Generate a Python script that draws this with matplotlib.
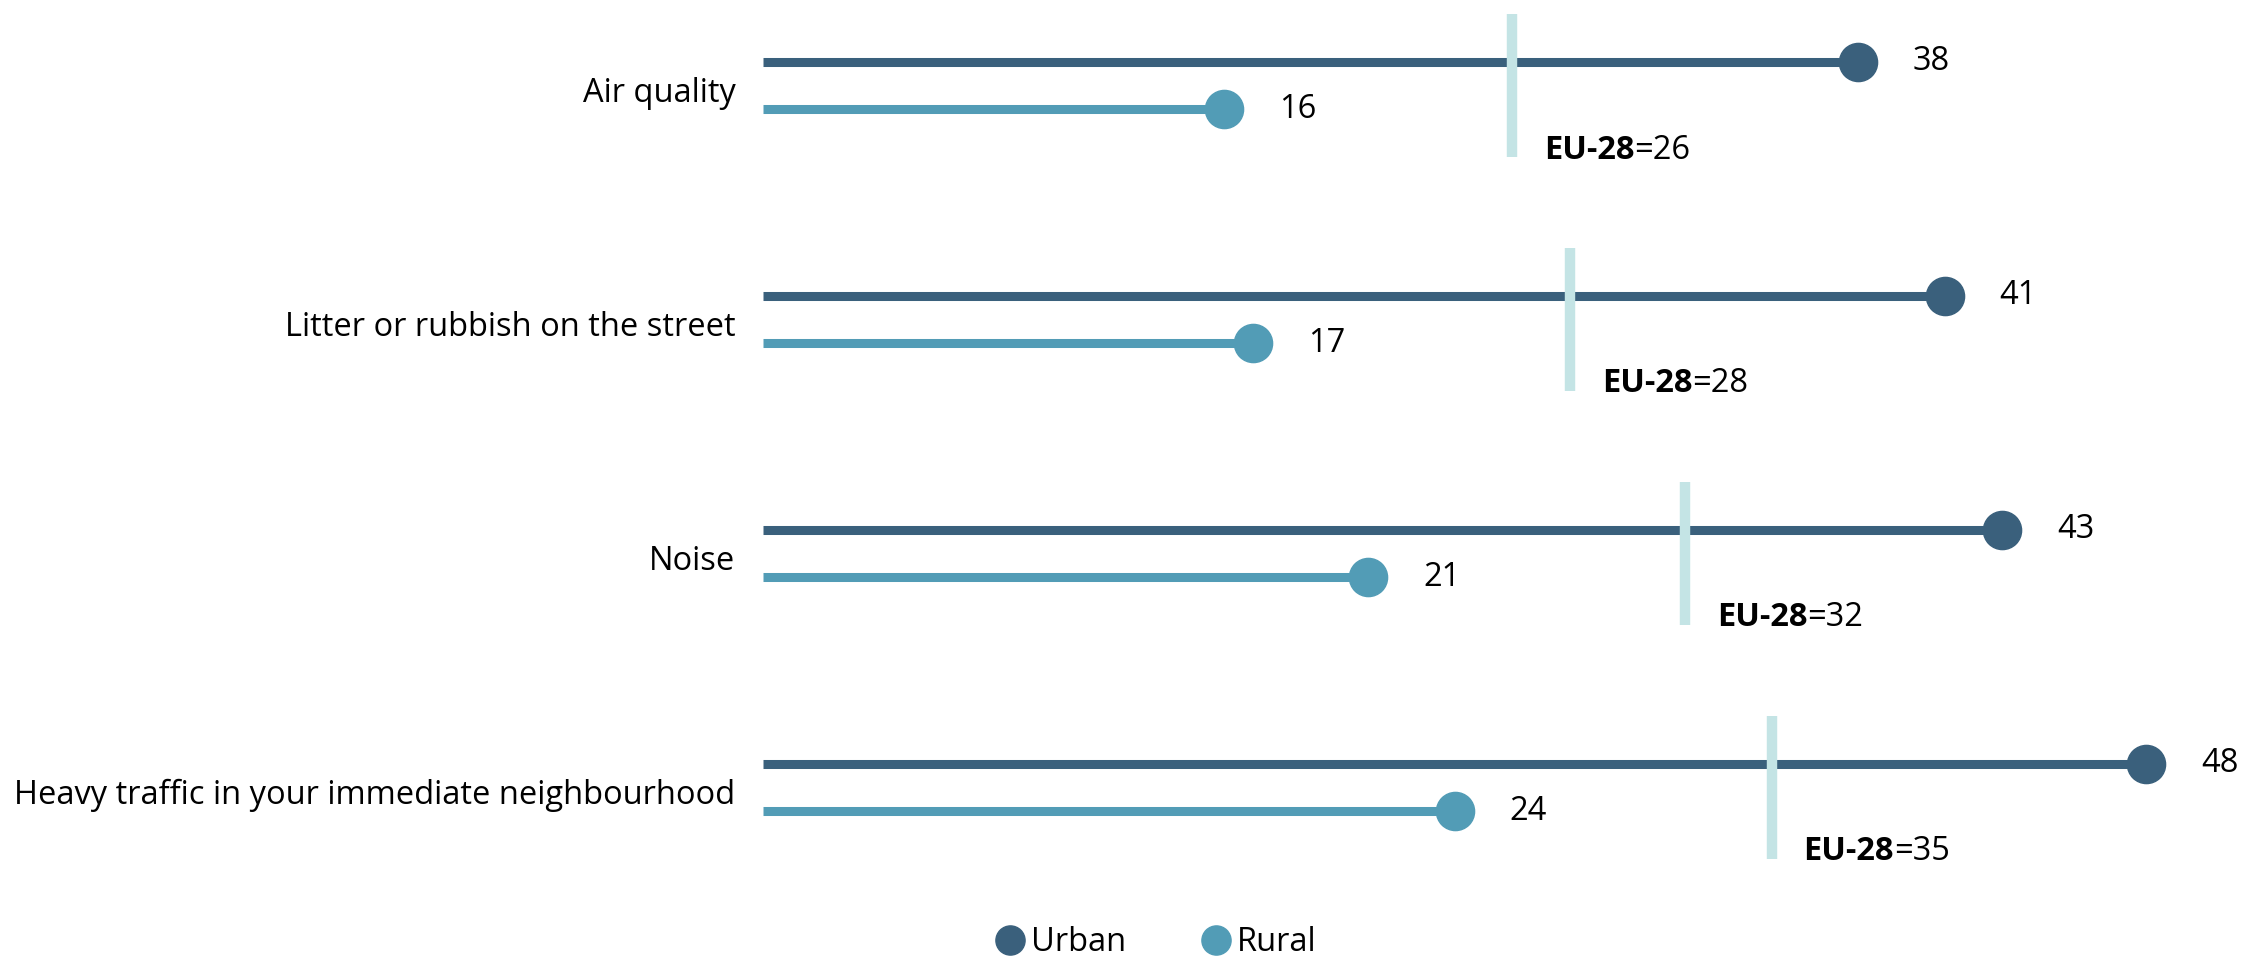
import matplotlib.pyplot as plt
from matplotlib.lines import Line2D

plt.rcParams['font.family'] = ['Open Sans', 'DejaVu Sans']

categories = [
    'Air quality',
    'Litter or rubbish on the street',
    'Noise',
    'Heavy traffic in your immediate neighbourhood',
]
urban = [38, 41, 43, 48]
rural = [16, 17, 21, 24]
eu28 = [26, 28, 32, 35]

URBAN_COL = '#3a607c'
RURAL_COL = '#529cb6'
EU_COL = '#c4e4e5'
FS = 23.5

fig = plt.figure(figsize=(22.44, 9.58), dpi=100)
ax = fig.add_axes([0, 0, 1, 1])

# pixel-like layout: x in data units, y in pixels from the top
x0_px = 763
px_per_unit = 28.82
ax.set_xlim(-x0_px / px_per_unit, (2244 - x0_px) / px_per_unit)
ax.set_ylim(958, 0)
ax.axis('off')

top = 61.5
step = 234
gap = 47.5

for i, cat in enumerate(categories):
    yu = top + i * step
    yr = yu + gap
    ax.plot([0, urban[i]], [yu, yu], color=URBAN_COL, lw=6.5, solid_capstyle='butt', zorder=2)
    ax.plot([0, rural[i]], [yr, yr], color=RURAL_COL, lw=6.5, solid_capstyle='butt', zorder=2)
    ax.plot([urban[i]], [yu], 'o', color=URBAN_COL, ms=27.5, zorder=4)
    ax.plot([rural[i]], [yr], 'o', color=RURAL_COL, ms=27.5, zorder=4)
    ax.plot([eu28[i], eu28[i]], [yu - 48, yr + 48], color=EU_COL, lw=7.5,
            solid_capstyle='butt', zorder=3)

    ax.text(urban[i] + 1.9, yu, str(urban[i]), ha='left', va='center', fontsize=FS)
    ax.text(rural[i] + 1.9, yr, str(rural[i]), ha='left', va='center', fontsize=FS)
    ax.text(-0.95, (yu + yr) / 2 + 8, cat, ha='right', va='center', fontsize=FS)

    t = ax.text(eu28[i] + 1.1, yr + 41, 'EU-28', ha='left', va='center',
                fontsize=FS, fontweight='bold')
    ax.annotate('=' + str(eu28[i]), xycoords=t, xy=(1, 0.5), va='center',
                ha='left', fontsize=FS)

handles = [
    Line2D([], [], marker='o', ls='none', color=URBAN_COL, ms=21, label='Urban'),
    Line2D([], [], marker='o', ls='none', color=RURAL_COL, ms=21, label='Rural'),
]
fig.legend(handles=handles, loc='lower center', bbox_to_anchor=(0.5147, -0.032), ncol=2,
           frameon=False, fontsize=FS, handletextpad=0.15, columnspacing=2.25,
           handlelength=1.0)

fig.savefig('out.png', dpi=100)
